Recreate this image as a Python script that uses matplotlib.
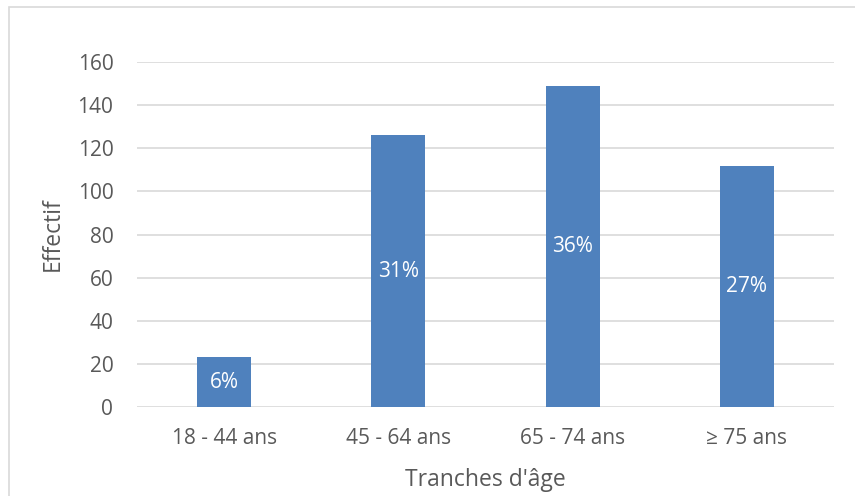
import numpy as np
import matplotlib.pyplot as plt
from matplotlib.patches import Rectangle

categories = ['18 - 44 ans', '45 - 64 ans', '65 - 74 ans', '≥ 75 ans']
effectifs = [23, 126, 149, 112]
pourcentages = ['6%', '31%', '36%', '27%']

plt.rcParams['font.family'] = ['Open Sans', 'DejaVu Sans']

fig = plt.figure(figsize=(8.55, 4.96), dpi=100)
ax = fig.add_axes([0.1602, 0.1794, 0.8152, 0.6956])

# cadre gris autour du graphique
fig.patches.append(Rectangle((9 / 855, -0.1), 1.2, 1 - 7 / 496 + 0.1,
                             transform=fig.transFigure, fill=False,
                             edgecolor='#D9D9D9', linewidth=1.2))

x = np.arange(len(categories))
bars = ax.bar(x, effectifs, width=0.31, color='#4F81BD', zorder=3)

for b, p in zip(bars, pourcentages):
    ax.text(b.get_x() + b.get_width() / 2, b.get_height() / 2, p,
            ha='center', va='center', color='white', fontsize=15, zorder=4)

ax.set_xlim(-0.5, 3.5)
ax.set_ylim(0, 160)
ax.set_yticks(range(0, 161, 20))
ax.set_xticks(x)
ax.set_xticklabels(categories)
ax.grid(axis='y', color='#D9D9D9', linewidth=1.2, zorder=0)
for s in ax.spines.values():
    s.set_visible(False)
ax.tick_params(length=0, labelsize=15, labelcolor='#595959')
ax.tick_params(axis='y', pad=17)
ax.tick_params(axis='x', pad=15)

ax.set_xlabel("Tranches d'âge", fontsize=16.5, color='#595959', labelpad=14)
ax.set_ylabel('Effectif', fontsize=16.5, color='#595959', labelpad=9)

fig.savefig('out.png', dpi=100)
